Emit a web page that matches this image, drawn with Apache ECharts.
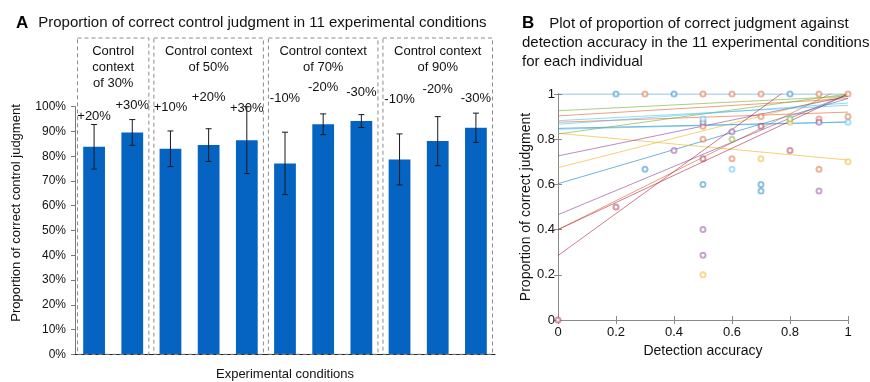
<!DOCTYPE html>
<html>
<head>
<meta charset="utf-8">
<script src="https://cdn.jsdelivr.net/npm/echarts@6/dist/echarts.min.js"></script>
<style>
  html, body { margin: 0; padding: 0; background: #fff; }
  #c { width: 870px; height: 382px; }
</style>
</head>
<body>
<div id="c"></div>
<script>
// ---- Panel A: proportion of correct control judgment per condition ----
const conditions = ['+20%', '+30%', '+10%', '+20%', '+30%', '-10%', '-20%', '-30%', '-10%', '-20%', '-30%'];
const contextGroups = ['Control\ncontext\nof 30%', 'Control context\nof 50%', 'Control context\nof 70%', 'Control context\nof 90%'];
const groupSizes = [2, 3, 3, 3];
const meanCorrect = [83.8, 89.6, 83.0, 84.5, 86.5, 77.1, 92.9, 94.2, 78.7, 86.1, 91.5];
const errCorrect = [9.0, 5.2, 7.2, 6.6, 13.5, 12.6, 4.2, 2.6, 10.3, 9.9, 5.9];

// ---- Panel B: per-individual fits, [value at accuracy 0, value at accuracy 1] ----
const blueFits = [[1.0, 1.0], [0.603, 0.98], [0.848, 0.876]];
const orangeFits = [[0.903, 0.98], [0.875, 0.92], [0.40, 1.04]];
const yellowFits = [[0.826, 0.708], [0.674, 1.0]];
const purpleFits = [[0.726, 0.99], [0.466, 1.0]];
const greenFits = [[0.926, 0.99], [0.823, 1.0]];
const cyanFits = [[0.882, 0.95], [0.866, 0.96], [0.844, 0.876]];
const redFits = [[0.285, 1.215], [0.40, 1.0]];

// individual observations [detection accuracy, proportion correct]
const bluePts = [[0.2, 1], [0.4, 1], [0.3, 0.667], [0.5, 0.6], [0.8, 1], [0.7, 0.6], [0.7, 0.571]];
const orangePts = [[0.3, 1], [0.5, 1], [0.6, 1], [0.7, 1], [0.9, 1], [1, 1], [0.5, 0.857], [0.5, 0.8],
  [0.6, 0.714], [0.7, 0.9], [0.9, 0.889], [0.9, 0.667], [1, 0.9]];
const yellowPts = [[0.7, 0.714], [0.8, 0.875], [0.5, 0.2], [1, 0.7]];
const purplePts = [[0.4, 0.75], [0.5, 0.875], [0.5, 0.4], [0.5, 0.286], [0.6, 0.833], [0.9, 0.875], [0.9, 0.571]];
const greenPts = [[0.6, 0.8], [0.8, 0.889]];
const cyanPts = [[0.5, 0.889], [0.6, 0.667], [1, 0.875]];
const redPts = [[0.2, 0.5], [0.5, 0.714], [0.7, 0.857], [0.8, 0.75], [0, 0]];

// ---- styling ----
const FONT = "'Liberation Sans', Arial, sans-serif";
const BAR_COLOR = '#0563C1';
const AXIS_GREY = '#8a8a8a';
const colors = {
  blue: 'rgba(0,114,189,0.55)', orange: 'rgba(217,83,25,0.55)', yellow: 'rgba(237,177,32,0.6)',
  purple: 'rgba(126,47,142,0.55)', green: 'rgba(119,172,48,0.6)', cyan: 'rgba(77,190,238,0.6)',
  red: 'rgba(162,20,47,0.55)'
};
const fitSets = [['blue', blueFits], ['orange', orangeFits], ['yellow', yellowFits], ['purple', purpleFits],
  ['green', greenFits], ['cyan', cyanFits], ['red', redFits]];
const ptSets = [['blue', bluePts], ['orange', orangePts], ['yellow', yellowPts], ['purple', purplePts],
  ['green', greenPts], ['cyan', cyanPts], ['red', redPts]];

const chart = echarts.init(document.getElementById('c'), null, { renderer: 'canvas' });

const series = [
  {
    type: 'bar', xAxisIndex: 0, yAxisIndex: 0, data: meanCorrect,
    barWidth: '57%', itemStyle: { color: BAR_COLOR }, silent: true
  },
  {
    type: 'custom', xAxisIndex: 0, yAxisIndex: 0, z: 5, silent: true,
    data: meanCorrect.map((m, i) => [i, m, errCorrect[i]]),
    renderItem(params, api) {
      const i = api.value(0), m = api.value(1), e = api.value(2);
      const t = api.coord([i, m + e]), b = api.coord([i, m - e]);
      const w = 3, st = { stroke: '#1a1a1a', lineWidth: 1 };
      return {
        type: 'group', children: [
          { type: 'line', shape: { x1: t[0], y1: t[1], x2: b[0], y2: b[1] }, style: st },
          { type: 'line', shape: { x1: t[0] - w, y1: t[1], x2: t[0] + w, y2: t[1] }, style: st },
          { type: 'line', shape: { x1: b[0] - w, y1: b[1], x2: b[0] + w, y2: b[1] }, style: st }
        ]
      };
    }
  }
];

fitSets.forEach(([c, fits]) => {
  fits.forEach(f => {
    series.push({
      type: 'line', xAxisIndex: 1, yAxisIndex: 1, clip: true, silent: true,
      showSymbol: false, data: [[0, f[0]], [1, f[1]]],
      lineStyle: { color: colors[c], width: 1 }
    });
  });
});
ptSets.forEach(([c, pts]) => {
  series.push({
    type: 'scatter', xAxisIndex: 1, yAxisIndex: 1, silent: true, clip: false, z: 4,
    symbol: 'emptyCircle', symbolSize: 5, data: pts,
    itemStyle: { color: colors[c], borderWidth: 1 }
  });
});

const option = {
  animation: false,
  textStyle: { fontFamily: FONT },
  title: [
    {
      left: 11, top: 9,
      text: '{b|A}  {t|Proportion of correct control judgment in 11 experimental conditions}',
      textStyle: {
        fontWeight: 'normal',
        rich: {
          b: { fontFamily: FONT, fontWeight: 'bold', fontSize: 17, color: '#000' },
          t: { fontFamily: FONT, fontWeight: 'normal', fontSize: 15, color: '#111' }
        }
      }
    },
    {
      left: 517, top: 9,
      text: '{b|B}   {t|Plot of proportion of correct judgment against}\n{t|detection accuracy in the 11 experimental conditions}\n{t|for each individual}',
      textStyle: {
        fontWeight: 'normal',
        lineHeight: 19,
        rich: {
          b: { fontFamily: FONT, fontWeight: 'bold', fontSize: 17, color: '#000', lineHeight: 19 },
          t: { fontFamily: FONT, fontWeight: 'normal', fontSize: 15, color: '#111', lineHeight: 19 }
        }
      }
    }
  ],
  grid: [
    { left: 75, top: 106.7, width: 420, height: 247.6, outerBoundsMode: 'none' },
    { left: 558, top: 94, width: 290, height: 226, outerBoundsMode: 'none' }
  ],
  xAxis: [
    {
      gridIndex: 0, type: 'category', data: conditions,
      axisLine: { lineStyle: { color: '#222', width: 1 } },
      axisTick: { show: false }, axisLabel: { show: false },
      name: 'Experimental conditions', nameLocation: 'middle', nameGap: 14,
      nameTextStyle: { fontFamily: FONT, fontSize: 13, color: '#111' }
    },
    {
      gridIndex: 1, type: 'value', min: 0, max: 1, interval: 0.2,
      axisLine: { lineStyle: { color: AXIS_GREY } },
      axisTick: { inside: true, length: 4, lineStyle: { color: AXIS_GREY } },
      axisLabel: { fontFamily: FONT, fontSize: 13, color: '#111', margin: 6 },
      splitLine: { show: false },
      name: 'Detection accuracy', nameLocation: 'middle', nameGap: 22,
      nameTextStyle: { fontFamily: FONT, fontSize: 14, color: '#111' }
    },
    {
      gridIndex: 1, type: 'value', position: 'top', min: 0, max: 1, interval: 0.2,
      axisLine: { lineStyle: { color: AXIS_GREY } },
      axisTick: { inside: true, length: 4, lineStyle: { color: AXIS_GREY } },
      axisLabel: { show: false }, splitLine: { show: false }
    }
  ],
  yAxis: [
    {
      gridIndex: 0, type: 'value', min: 0, max: 100, interval: 10,
      axisLine: { show: true, lineStyle: { color: '#7a7a7a' } },
      axisTick: { show: true, length: 4, lineStyle: { color: '#7a7a7a' } },
      axisLabel: { formatter: '{value}%', fontFamily: FONT, fontSize: 12, color: '#111', margin: 9 },
      splitLine: { show: false },
      name: 'Proportion of correct control judgment', nameLocation: 'middle', nameGap: 52,
      nameTextStyle: { fontFamily: FONT, fontSize: 13, color: '#111', padding: [0, 0, 0, 35] }
    },
    {
      gridIndex: 1, type: 'value', min: 0, max: 1, interval: 0.2,
      axisLine: { show: true, lineStyle: { color: AXIS_GREY } },
      axisTick: { show: true, inside: true, length: 4, lineStyle: { color: AXIS_GREY } },
      axisLabel: { fontFamily: FONT, fontSize: 13, color: '#111', margin: 3 },
      splitLine: { show: false },
      name: 'Proportion of correct judgment', nameLocation: 'middle', nameGap: 17,
      nameTextStyle: { fontFamily: FONT, fontSize: 14, color: '#111' }
    },
    {
      gridIndex: 1, type: 'value', position: 'right', min: 0, max: 1, interval: 0.2,
      axisLine: { show: true, lineStyle: { color: AXIS_GREY } },
      axisTick: { show: true, inside: true, length: 4, lineStyle: { color: AXIS_GREY } },
      axisLabel: { show: false }, splitLine: { show: false }
    }
  ],
  series: series
};
chart.setOption(option);

// Dashed context boxes, context headings and condition tags above the bars
const BOX_TOP = 38;
const HEAD_TOP = 43;
const HEAD_LINE = 16;
const tagCenters = [116, 105, 107, 97, 108, 98, 87, 92, 99, 89, 98];
const cx = i => chart.convertToPixel({ xAxisIndex: 0 }, i);
const slot = cx(1) - cx(0);
const baseY = chart.convertToPixel({ yAxisIndex: 0 }, 0);
const graphics = [];
let start = 0;
groupSizes.forEach((n, g) => {
  const x0 = cx(start) - slot / 2 + 2.5;
  const x1 = cx(start + n - 1) + slot / 2 - 2.5;
  graphics.push({
    type: 'rect', silent: true, z: 10,
    shape: { x: x0, y: BOX_TOP, width: x1 - x0, height: baseY - BOX_TOP },
    style: { fill: null, stroke: '#8c8c8c', lineWidth: 1, lineDash: [4, 3] }
  });
  graphics.push({
    type: 'text', silent: true, z: 10,
    x: (x0 + x1) / 2, y: HEAD_TOP,
    style: {
      text: contextGroups[g], fill: '#111', font: '13px ' + FONT,
      align: 'center', verticalAlign: 'top', lineHeight: HEAD_LINE
    }
  });
  start += n;
});
conditions.forEach((c, i) => {
  graphics.push({
    type: 'text', silent: true, z: 10,
    x: cx(i), y: tagCenters[i],
    style: { text: c, fill: '#111', font: '13px ' + FONT, align: 'center', verticalAlign: 'middle' }
  });
});
chart.setOption({ graphic: graphics });
</script>
</body>
</html>
